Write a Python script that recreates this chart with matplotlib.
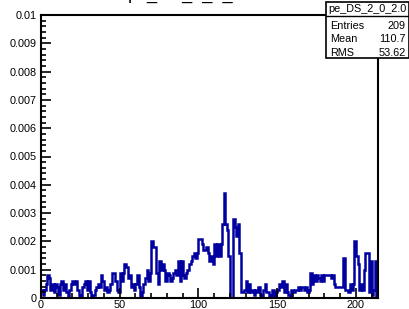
import numpy as np
import matplotlib.pyplot as plt
from matplotlib.ticker import MultipleLocator

plt.rcParams['font.family'] = ['Liberation Sans', 'DejaVu Sans']

# histogram contents, 1 unit wide bins starting at 0 (in units of 1e-4)
counts = [
    3, 1, 3, 5, 8, 7, 3, 5, 2, 5,
    4, 1, 5, 6, 3, 5, 2, 0, 3, 5,
    6, 5, 6, 3, 1, 0, 4, 5, 6, 3,
    6, 2, 0, 1, 3, 4, 5, 4, 8, 6,
    3, 4, 2, 3, 5, 9, 9, 6, 3, 2,
    9, 6, 9, 12, 11, 7, 8, 4, 5, 3,
    5, 8, 4, 0, 2, 5, 7, 10, 6, 9,
    20, 18, 18, 9, 5, 13, 10, 12, 10, 6,
    9, 8, 6, 7, 9, 10, 8, 13, 6, 13,
    8, 7, 9, 10, 12, 13, 15, 16, 14, 16,
    21, 21, 19, 17, 17, 18, 16, 13, 15, 12,
    19, 15, 19, 15, 19, 26, 37, 26, 24, 15,
    0, 0, 28, 25, 22, 26, 16, 2, 2, 3,
    6, 2, 5, 2, 3, 1, 3, 2, 4, 1,
    0, 3, 5, 2, 2, 0, 1, 3, 0, 2,
    3, 5, 4, 6, 2, 5, 2, 1, 0, 3,
    2, 3, 3, 4, 3, 4, 4, 3, 4, 2,
    3, 9, 5, 8, 6, 8, 7, 6, 8, 6,
    8, 8, 8, 8, 7, 8, 5, 4, 4, 4,
    4, 4, 14, 3, 3, 2, 5, 3, 5, 20,
    15, 12, 3, 5, 3, 10, 16, 16, 2, 13,
    1, 3, 13, 0,
]
values = np.array(counts) * 1e-4
edges = np.arange(len(values) + 1)

hist_name = 'pe_DS_2_0_2.0'
stats = [('Entries', '209'), ('Mean', '110.7'), ('RMS', '53.62')]

fig = plt.figure(figsize=(4.10, 3.09), dpi=100)
ax = fig.add_axes([41/410, 1 - 298/309, 337/410, 283/309])

ax.stairs(values, edges, baseline=None, color='#0000a0', lw=1.8)

ax.set_xlim(0, edges[-1])
ax.set_ylim(0, 0.01)
ax.xaxis.set_major_locator(MultipleLocator(50))
ax.xaxis.set_minor_locator(MultipleLocator(10))
ax.yaxis.set_major_locator(MultipleLocator(0.001))
ax.yaxis.set_minor_locator(MultipleLocator(0.0002))
ax.yaxis.set_major_formatter(lambda v, p: '0' if v == 0 else f'{v:g}')
ax.tick_params(which='both', direction='in', width=1.2, labelsize=7.8)
ax.tick_params(which='major', length=7)
ax.tick_params(which='minor', length=3.5)
ax.tick_params(axis='x', pad=1.5)
ax.tick_params(axis='y', pad=3)
for s in ax.spines.values():
    s.set_linewidth(1.5)

# title, mostly cut off by the top of the canvas
fig.text(0.47, 1.0 + 1/309, hist_name, ha='center', va='baseline', fontsize=13)

# stats box
bx0, bx1 = 326/410, 409/410
by0, by1 = 1 - 58/309, 1 - 2/309
fig.patches.append(plt.Rectangle((bx0, by0), bx1 - bx0, by1 - by0,
                                 transform=fig.transFigure, fill=True,
                                 facecolor='white', edgecolor='black', lw=1.2))
fig.add_artist(plt.Line2D([bx0, bx1], [1 - 16/309] * 2,
                          transform=fig.transFigure, color='black', lw=1))
fig.text((bx0 + bx1) / 2, 1 - 9/309, hist_name, ha='center', va='center', fontsize=7.8)
for i, (k, v) in enumerate(stats):
    yy = 1 - (26 + i * 13.5) / 309
    fig.text(bx0 + 4/410, yy, k, ha='left', va='center', fontsize=7.8)
    fig.text(bx1 - 3/410, yy, v, ha='right', va='center', fontsize=7.8)

fig.savefig('out.png', dpi=100)
